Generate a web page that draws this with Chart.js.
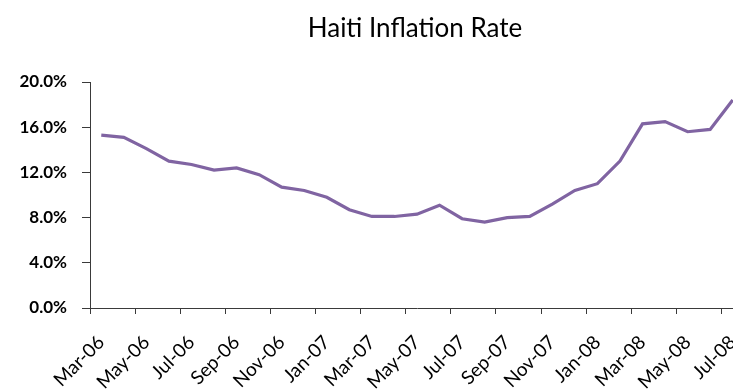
<!DOCTYPE html>
<html>
<head>
<meta charset="utf-8">
<title>Haiti Inflation Rate</title>
<script src="https://cdn.jsdelivr.net/npm/chart.js@4/dist/chart.umd.min.js"></script>
<style>
  html, body { margin: 0; padding: 0; background: #fff; overflow: hidden; }
  #wrap { width: 750px; height: 391px; }
</style>
</head>
<body>
<div id="wrap"><canvas id="chart" width="750" height="391"></canvas></div>
<script>
// Monthly categories, March 2006 to July 2008
const months = [
  'Mar-06','Apr-06','May-06','Jun-06','Jul-06','Aug-06','Sep-06','Oct-06','Nov-06','Dec-06',
  'Jan-07','Feb-07','Mar-07','Apr-07','May-07','Jun-07','Jul-07','Aug-07','Sep-07','Oct-07',
  'Nov-07','Dec-07','Jan-08','Feb-08','Mar-08','Apr-08','May-08','Jun-08','Jul-08'
];
// Year-on-year inflation, percent
const inflation = [
  15.3, 15.1, 14.1, 13.0, 12.7, 12.2, 12.4, 11.8, 10.7, 10.4,
  9.8, 8.7, 8.1, 8.1, 8.3, 9.1, 7.9, 7.6, 8.0, 8.1,
  9.2, 10.4, 11.0, 13.0, 16.3, 16.5, 15.6, 15.8, 18.4
];
// Value axis ticks
const yTicks = [0, 4, 8, 12, 16, 20];

const titleText = 'Haiti Inflation Rate';
const axisColor = '#3a3a3a';
const fontFamily = 'Lato, "Open Sans", sans-serif';

// Title centred over the plot area
const plotTitle = {
  id: 'plotTitle',
  afterDraw(chart) {
    const { ctx, chartArea } = chart;
    ctx.save();
    ctx.font = '26px ' + fontFamily;
    ctx.fillStyle = '#000';
    ctx.textAlign = 'center';
    ctx.textBaseline = 'middle';
    ctx.fillText(titleText, (chartArea.left + chartArea.right) / 2 - 2, 29);
    ctx.restore();
  }
};

const everyOther = (c) => (c.index % 2 === 0 ? axisColor : 'rgba(0,0,0,0)');

new Chart(document.getElementById('chart'), {
  type: 'line',
  data: {
    labels: months,
    datasets: [{
      data: inflation,
      borderColor: '#8064A2',
      borderWidth: 3.2,
      pointRadius: 0,
      pointHoverRadius: 0,
      tension: 0,
      fill: false
    }]
  },
  options: {
    responsive: false,
    animation: false,
    events: [],
    layout: { padding: { top: 82, right: 6, bottom: 0, left: 0 } },
    plugins: { legend: { display: false }, tooltip: { enabled: false }, title: { display: false } },
    scales: {
      x: {
        type: 'category',
        offset: true,
        afterFit(scale) {
          scale.height = 83;
          scale.paddingLeft = 0;
          scale.paddingRight = 0;
        },
        border: { display: true, color: axisColor, width: 1 },
        grid: {
          offset: true,
          drawOnChartArea: false,
          drawTicks: true,
          tickLength: 6,
          color: everyOther,
          tickColor: everyOther
        },
        ticks: {
          autoSkip: false,
          minRotation: 45,
          maxRotation: 45,
          padding: 17,
          color: '#000',
          font: { family: fontFamily, size: 19 },
          callback(value, index) { return index % 2 === 0 ? this.getLabelForValue(value) : ''; }
        }
      },
      y: {
        min: 0,
        max: 20,
        afterFit(scale) {
          scale.width = 90;
          scale.paddingTop = 0;
          scale.paddingBottom = 0;
        },
        afterBuildTicks(scale) { scale.ticks = yTicks.map(v => ({ value: v })); },
        border: { display: true, color: axisColor, width: 1 },
        grid: { drawOnChartArea: false, drawTicks: true, tickLength: 8, color: axisColor },
        ticks: {
          padding: 15,
          color: '#000',
          font: { family: fontFamily, size: 17, weight: 'bold' },
          callback: (v) => Number(v).toFixed(1) + '%'
        }
      }
    }
  },
  plugins: [plotTitle]
});
</script>
</body>
</html>
